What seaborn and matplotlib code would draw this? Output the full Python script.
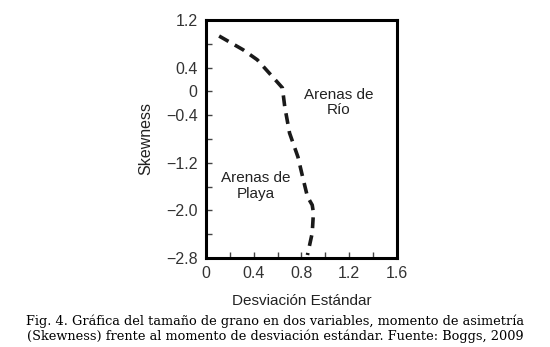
# Skewness vs standard deviation (Boggs, 2009) - seaborn version
import seaborn as sns
import matplotlib.pyplot as plt
import pandas as pd

# values
desv_estandar = [0.11, 0.31, 0.43, 0.56, 0.64, 0.66, 0.70, 0.77, 0.81, 0.85, 0.89, 0.90, 0.89, 0.85]
skewness = [0.93, 0.70, 0.53, 0.24, 0.06, -0.26, -0.70, -1.10, -1.44, -1.77, -1.91, -2.04, -2.38, -2.75]

x_ticks = [0, 0.2, 0.4, 0.6, 0.8, 1.0, 1.2, 1.4, 1.6]
x_labels = ['0', '', '0.4', '', '0.8', '', '1.2', '', '1.6']
y_ticks = [1.2, 0.8, 0.4, 0, -0.4, -0.8, -1.2, -1.6, -2.0, -2.4, -2.8]
y_labels = ['1.2', '', '0.4', '0', '\u22120.4', '', '\u22121.2', '', '\u22122.0', '', '\u22122.8']

df = pd.DataFrame({'desv': desv_estandar, 'skew': skewness})

sns.set_style('ticks')
plt.rcParams['font.family'] = ['Liberation Sans', 'DejaVu Sans']
plt.rcParams['text.color'] = '#222222'
plt.rcParams['axes.labelcolor'] = '#222222'
plt.rcParams['xtick.labelcolor'] = '#333333'
plt.rcParams['ytick.labelcolor'] = '#333333'

fig = plt.figure(figsize=(5.5, 3.47), dpi=100)
ax = fig.add_axes([0.3745, 0.2565, 0.3473, 0.686])

# estimator=None keeps the curve in drawing order (no averaging of equal x)
sns.lineplot(data=df, x='desv', y='skew', sort=False, estimator=None, color='#1a1a1a',
             linewidth=2.6, linestyle=(0, (3, 2)), ax=ax)

ax.set_xlim(0, 1.6)
ax.set_ylim(-2.8, 1.2)
ax.set_xticks(x_ticks)
ax.set_xticklabels(x_labels)
ax.set_yticks(y_ticks)
ax.set_yticklabels(y_labels)
ax.tick_params(direction='in', length=4, width=1, labelsize=11.5, color='#444444', pad=6)

for s in ax.spines.values():
    s.set_linewidth(2.2)
    s.set_color('black')

# region labels
ax.text(1.11, -0.19, 'Arenas de\nRío', ha='center', va='center', fontsize=11, linespacing=1.1)
ax.text(0.42, -1.59, 'Arenas de\nPlaya', ha='center', va='center', fontsize=11, linespacing=1.1)

ax.set_xlabel('Desviación Estándar', fontsize=11, labelpad=9)
ax.set_ylabel('Skewness', fontsize=11.5, labelpad=9)

# caption
fig.text(0.5, 0.012, 'Fig. 4. Gráfica del tamaño de grano en dos variables, momento de asimetría\n'
         '(Skewness) frente al momento de desviación estándar. Fuente: Boggs, 2009',
         ha='center', va='bottom', fontsize=9.3, family='DejaVu Serif', linespacing=1.1,
         color='black')

plt.savefig('out.png', dpi=100)
